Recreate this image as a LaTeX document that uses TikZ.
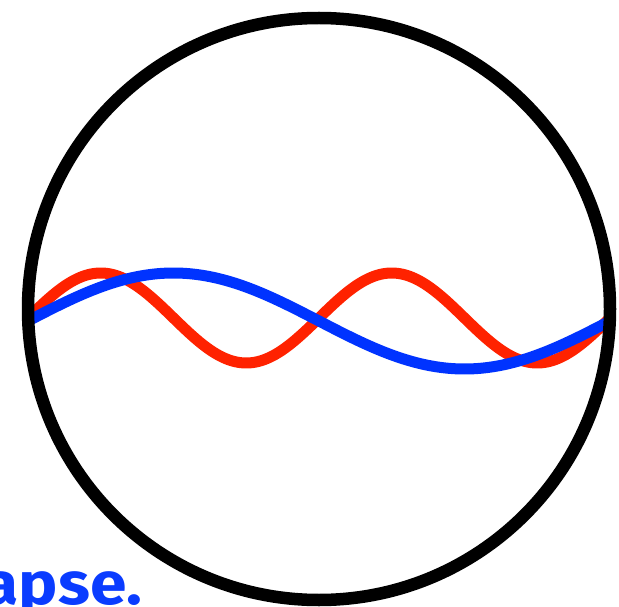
\documentclass[tikz,border=0pt]{standalone}
\usepackage{graphicx}
\usepackage{fontspec}
\newfontfamily\labelfont{Fira Sans}
\definecolor{wavered}{RGB}{255,34,0}
\definecolor{waveblue}{RGB}{0,51,255}
\definecolor{textblue}{RGB}{10,60,255}
\begin{document}
\begin{tikzpicture}[x=1pt,y=-1pt,
  wave/.style={line width=11pt,line cap=butt,line join=round},
  rim/.style={draw=black,line width=12.5pt},
  caption/.style={font=\labelfont\bfseries\fontsize{60}{60}\selectfont,text=textblue,inner sep=0pt,anchor=base east}]
\useasboundingbox (0,0) rectangle (619,607);
\draw[wave,wavered] plot[domain=30:608,samples=240,smooth] (\x,{318-45*sin(((\x-28)/291)*360)});
\draw[wave,waveblue] plot[domain=30:608,samples=240,smooth] (\x,{321-48*sin(((\x-28)/582)*360)});
\node[rim,circle,minimum size=582pt,inner sep=0pt] (ring) at (319,309) {};
\node[caption] (txt) at (142,604) {\scalebox{1.1}[1]{apse.}};
\end{tikzpicture}
\end{document}
